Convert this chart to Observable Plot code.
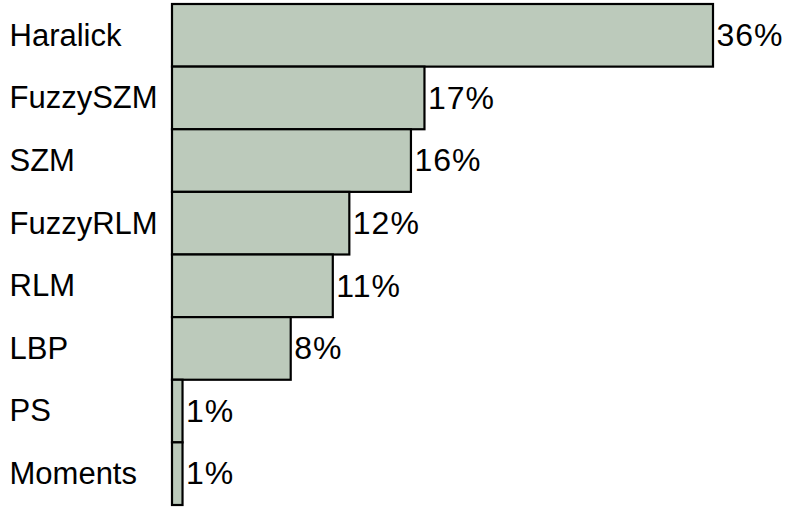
<!DOCTYPE html>
<html>
<head>
<meta charset="utf-8">
<script src="https://cdn.jsdelivr.net/npm/d3@7"></script>
<script src="https://cdn.jsdelivr.net/npm/@observablehq/plot@0.6"></script>
<style>
  html, body { margin: 0; padding: 0; background: #fff; }
</style>
</head>
<body>
<div id="chart"></div>
<script>
const categories = ["Haralick", "FuzzySZM", "SZM", "FuzzyRLM", "RLM", "LBP", "PS", "Moments"];
const values = [36, 16.8, 15.9, 11.8, 10.7, 7.9, 0.7, 0.7];
const valueLabels = ["36%", "17%", "16%", "12%", "11%", "8%", "1%", "1%"];

const data = categories.map((c, i) => ({name: c, value: values[i], label: valueLabels[i]}));

const chart = Plot.plot({
  width: 800,
  height: 510,
  marginLeft: 172,
  marginRight: 87,
  marginTop: 4,
  marginBottom: 5,
  style: {fontFamily: "'Liberation Sans', Arial, Helvetica, sans-serif", background: "#fff"},
  x: {domain: [0, 36], axis: null, round: false},
  y: {domain: categories, padding: 0, axis: null, round: false},
  marks: [
    Plot.barX(data, {x: "value", y: "name", fill: "#bccabb", stroke: "#000", strokeWidth: 2.2}),
    Plot.text(data, {y: "name", frameAnchor: "left", dx: -163, textAnchor: "start", text: "name", fontSize: 31, fill: "#000"}),
    Plot.text(data, {x: "value", y: "name", text: "label", textAnchor: "start", dx: 3, fontSize: 32, fill: "#000", style: "letter-spacing: 1px"})
  ]
});
document.getElementById("chart").appendChild(chart);
document.querySelectorAll("svg g[aria-label='text']:last-of-type text").forEach(t => t.setAttribute("letter-spacing", "1"));
</script>
</body>
</html>
